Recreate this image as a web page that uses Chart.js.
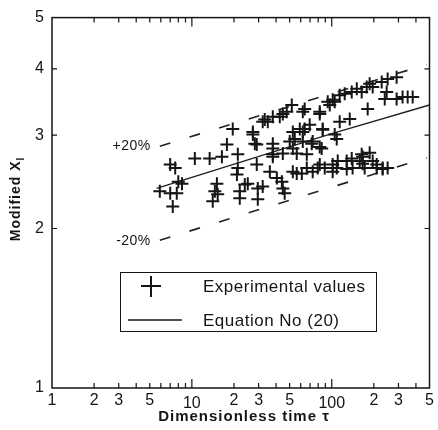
<!DOCTYPE html>
<html><head><meta charset="utf-8">
<script src="https://cdn.jsdelivr.net/npm/chart.js@4.4.0/dist/chart.umd.min.js"></script>
<style>html,body{margin:0;padding:0;background:#fff}#wrap{width:438px;height:430px}</style>
</head><body><div id="wrap"><canvas id="c" width="438" height="430"></canvas></div>
<script>
// Experimental points: dimensionless time tau and modified X_l
const expTau = [5.9,7.0,7.8,7.3,8.5,7.0,7.6,10.5,13.4,14.6,15.3,15.1,14.1,16.4,17.8,19.6,21.3,21.3,21.0,22.0,23.9,25.1,22.0,27.3,29.1,29.1,29.6,29.6,32.1,32.1,34.9,37.9,37.9,40.5,44.0,44.7,46.1,42.5,47.7,51.8,50.1,52.7,54.4,56.2,61.1,62.1,62.1,62.1,64.1,66.3,73.1,73.1,79.4,82.1,84.8,86.2,89.1,93.6,96.8,105,105,108.6,110.4,114,114,123.8,128,134.5,139,141,151,158.5,163.7,166.4,172,177.8,180.7,186.7,196.3,196.3,209.6,227.6,231.3,239.3,247,251,291,291,321,349,379,
37.9,33.2,44.7,64.1,82.1,101.6,27.3,28.2,37.9,37.9,52.7,59.1,69.6,71.9,82.1,86.2,108.6,56.2,44.7,36.1,52.7,66.3,82.1,101.6,
139,163.7,186.7,166.4,209.6,231,251,128,101.6,8.0];
const expXl = [2.35,2.33,2.33,2.20,2.43,2.64,2.60,2.71,2.71,2.35,2.32,2.43,2.25,2.73,2.88,3.08,2.76,2.60,2.53,2.35,2.42,2.43,2.28,3.01,2.88,2.64,2.38,2.27,2.40,3.18,3.18,2.83,2.76,2.49,2.45,2.38,2.33,3.25,3.32,3.42,2.92,2.83,2.95,2.54,2.54,3.04,2.92,3.32,3.08,2.76,2.92,2.56,2.60,3.32,2.83,3.08,2.60,3.47,3.42,3.47,3.01,2.60,2.68,3.57,3.18,3.59,2.68,3.22,3.62,2.60,3.67,2.68,3.62,2.73,2.60,3.70,3.36,3.75,3.70,2.68,2.64,3.78,2.60,3.51,3.62,3.83,3.86,3.51,3.54,3.54,3.54,
3.25,3.21,3.29,3.36,3.29,3.50,3.04,2.89,2.89,2.73,3.04,3.08,3.14,2.89,2.85,3.07,2.95,2.77,2.77,2.56,2.56,2.60,2.64,2.64,
2.71,2.76,2.78,2.65,2.60,2.59,2.60,2.59,2.56,2.45];
// Equation No (20) and +/-20% bands
const eqTau = [5.6, 100, 500];
const eqXl = [2.38, 3.02, 3.42];
const plusTau = [5.9, 480];
const plusXl = [2.86, 4.08];
const minusTau = [5.9, 480];
const minusXl = [1.90, 2.72];
// Axis ticks
const xTickValues = [1,2,3,4,5,6,7,8,9,10,20,30,40,50,60,70,80,90,100,200,300,400,500];
const xTickLabels = {1:'1',2:'2',3:'3',5:'5',10:'10',20:'2',30:'3',50:'5',100:'100',200:'2',300:'3',500:'5'};
const yTickValues = [1,2,3,4,5];

const zip = (a,b) => a.map((v,i)=>({x:v,y:b[i]}));
const FONT = '"Liberation Sans", Arial, sans-serif';
const INK = '#151515';

const decor = {
  id: 'decor',
  afterDraw(chart) {
    const {ctx, chartArea: ca, scales: {x, y}} = chart;
    ctx.save();
    ctx.strokeStyle = INK; ctx.lineWidth = 1.5;
    ctx.strokeRect(ca.left, ca.top, ca.right - ca.left, ca.bottom - ca.top);
    ctx.lineWidth = 1.2;
    // x ticks (inward, bottom and top)
    xTickValues.forEach(v => {
      const px = x.getPixelForValue(v);
      if (v === 1 || v === 500) return;
      const major = (v === 10 || v === 100);
      const len = major ? 9 : 5;
      ctx.beginPath();
      ctx.moveTo(px, ca.bottom); ctx.lineTo(px, ca.bottom - len);
      ctx.moveTo(px, ca.top); ctx.lineTo(px, ca.top + len);
      ctx.stroke();
    });
    // y ticks (inward, left and right)
    yTickValues.forEach(v => {
      if (v === 1 || v === 5) return;
      const py = y.getPixelForValue(v);
      ctx.beginPath();
      ctx.moveTo(ca.left, py); ctx.lineTo(ca.left + 5, py);
      ctx.moveTo(ca.right, py); ctx.lineTo(ca.right - 5, py);
      ctx.stroke();
    });
    // band labels
    ctx.fillStyle = INK;
    ctx.font = '14px ' + FONT;
    ctx.letterSpacing = '0.5px';
    ctx.textAlign = 'right'; ctx.textBaseline = 'middle';
    ctx.fillText('+20%', x.getPixelForValue(plusTau[0]) - 9, y.getPixelForValue(plusXl[0]));
    ctx.fillText('-20%', x.getPixelForValue(minusTau[0]) - 9, y.getPixelForValue(minusXl[0]) + 1);
    // legend
    const lx = 120, ly = 272, lw = 256, lh = 59;
    ctx.lineWidth = 1;
    ctx.fillStyle = '#fff';
    ctx.fillRect(lx, ly, lw, lh);
    ctx.strokeRect(lx + 0.5, ly + 0.5, lw, lh);
    ctx.lineWidth = 2;
    ctx.beginPath();
    ctx.moveTo(141, 286); ctx.lineTo(161, 286);
    ctx.moveTo(151, 276); ctx.lineTo(151, 297);
    ctx.stroke();
    ctx.lineWidth = 1.3;
    ctx.beginPath(); ctx.moveTo(128, 320); ctx.lineTo(182, 320); ctx.stroke();
    ctx.fillStyle = INK;
    ctx.font = '17px ' + FONT;
    ctx.letterSpacing = '0.5px';
    ctx.textAlign = 'left';
    ctx.fillText('Experimental values', 203, 287);
    ctx.fillText('Equation No (20)', 203, 321);
    // x title
    ctx.font = 'bold 15px ' + FONT;
    ctx.letterSpacing = '1px';
    ctx.textAlign = 'center';
    ctx.fillText('Dimensionless time \u03c4', 244, 417);
    // y title with subscript
    ctx.translate(16, 199);
    ctx.rotate(-Math.PI / 2);
    ctx.font = 'bold 14px ' + FONT;
    ctx.letterSpacing = '1px';
    const main = 'Modified X';
    const w1 = ctx.measureText(main).width;
    ctx.font = 'bold 10px ' + FONT;
    const w2 = ctx.measureText('l').width;
    const start = -(w1 + w2) / 2;
    ctx.textAlign = 'left';
    ctx.font = 'bold 14px ' + FONT;
    ctx.fillText(main, start, 0);
    ctx.font = 'bold 10px ' + FONT;
    ctx.fillText('l', start + w1, 5);
    ctx.restore();
  }
};

new Chart(document.getElementById('c'), {
  type: 'scatter',
  data: {
    datasets: [
      { label: 'Experimental values', data: zip(expTau, expXl), pointStyle: 'cross', pointRadius: 6.5, pointBorderWidth: 2, borderColor: INK, backgroundColor: INK, showLine: false },
      { label: 'Equation No (20)', data: zip(eqTau, eqXl), showLine: true, borderColor: '#222', borderWidth: 1.4, pointRadius: 0 },
      { label: '+20%', data: zip(plusTau, plusXl), showLine: true, borderColor: '#222', borderWidth: 1.6, borderDash: [11, 20], pointRadius: 0 },
      { label: '-20%', data: zip(minusTau, minusXl), showLine: true, borderColor: '#222', borderWidth: 1.6, borderDash: [11, 20], pointRadius: 0 }
    ]
  },
  options: {
    responsive: false, animation: false, devicePixelRatio: 1,
    layout: { padding: { left: 0, right: 7, top: 15, bottom: 0 } },
    plugins: { legend: { display: false }, tooltip: { enabled: false } },
    scales: {
      x: {
        type: 'logarithmic', min: 1, max: 500,
        grid: { display: false, drawTicks: false }, border: { display: false },
        afterBuildTicks: s => { s.ticks = xTickValues.map(v => ({ value: v })); },
        afterFit: s => { s.height = 42; },
        ticks: {
          autoSkip: false, maxRotation: 0, color: INK, padding: 3,
          font: c => ({ family: FONT, size: 16, lineHeight: (c.tick && (c.tick.value === 10 || c.tick.value === 100)) ? 1.6 : 1.2 }),
          callback: v => xTickLabels[v] || ''
        }
      },
      y: {
        type: 'logarithmic', min: 1, max: 5,
        grid: { display: false, drawTicks: false }, border: { display: false },
        afterBuildTicks: s => { s.ticks = yTickValues.map(v => ({ value: v })); },
        afterFit: s => { s.width = 52; },
        ticks: { color: INK, padding: 8, font: { family: FONT, size: 16 }, callback: v => String(v) }
      }
    }
  },
  plugins: [decor]
});
</script></body></html>
